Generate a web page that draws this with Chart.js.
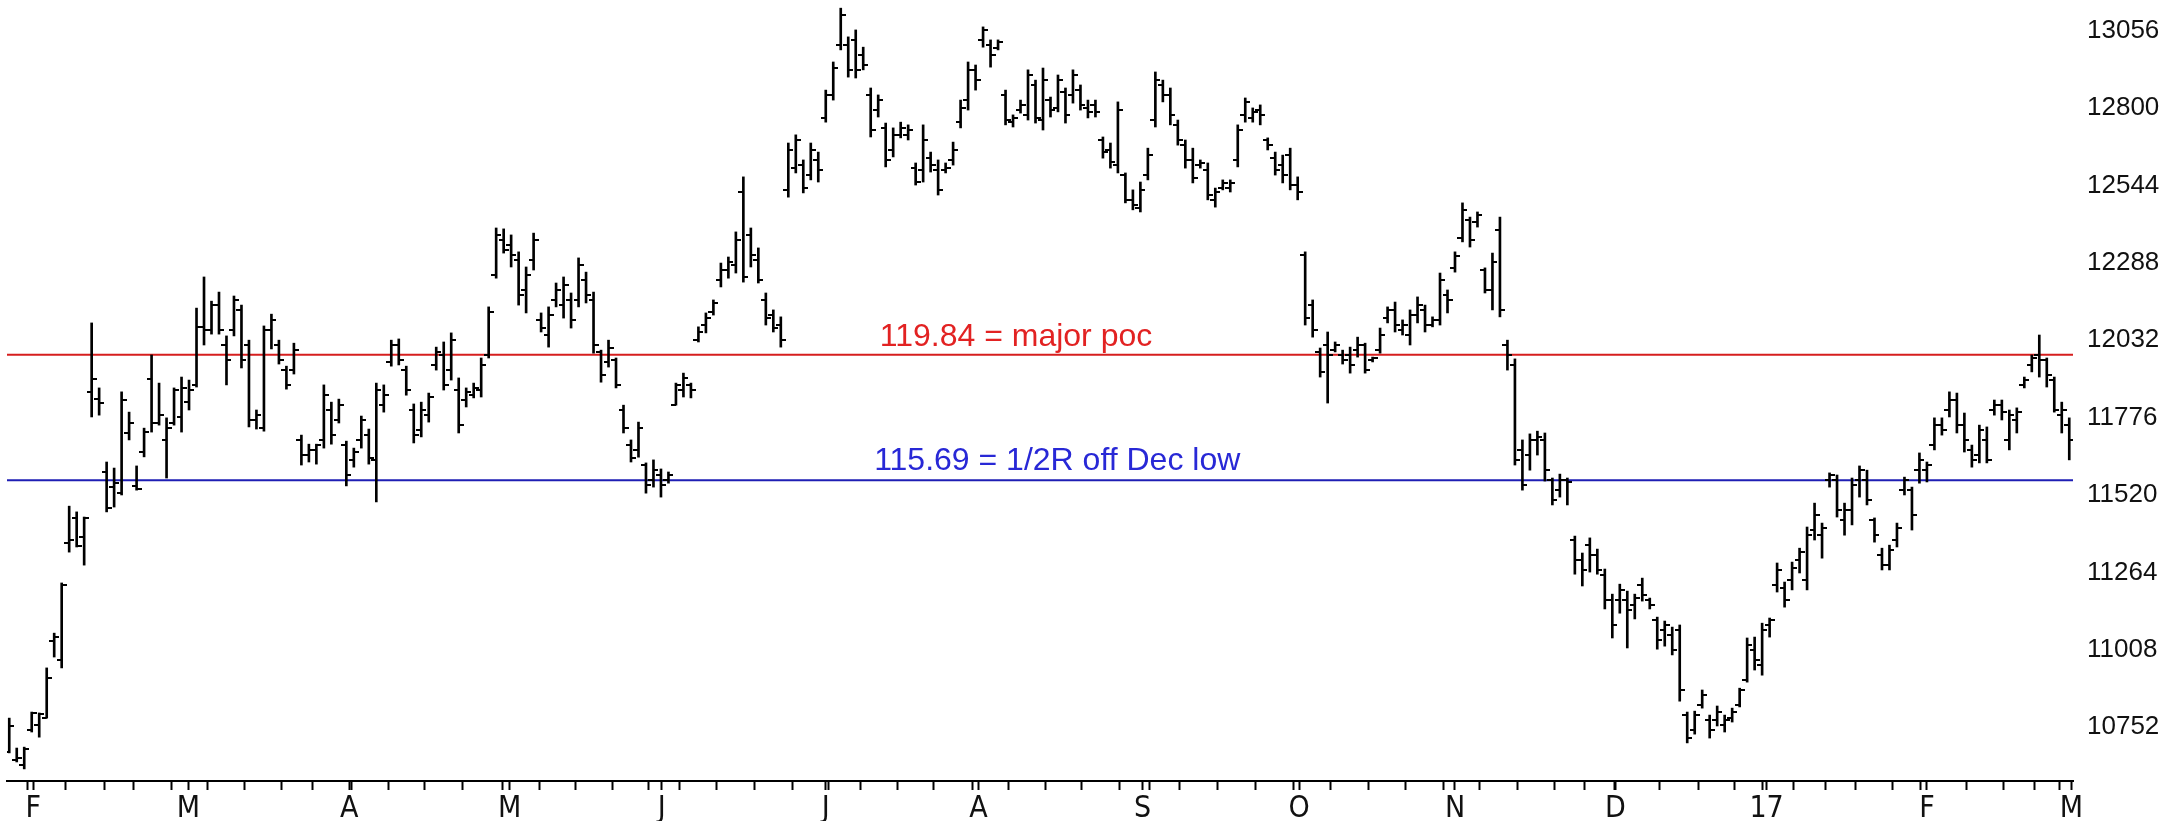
<!DOCTYPE html>
<html>
<head>
<meta charset="utf-8">
<script src="https://cdn.jsdelivr.net/npm/chart.js@4.4.1/dist/chart.umd.min.js"></script>
<style>
body{margin:0;background:#fff}
</style>
</head>
<body>
<canvas id="ohlc" width="2179" height="821"></canvas>
<script>
// daily bars, Feb 2016 .. Mar 2017
const opens=[10670,10643,10627,10743,10759,10782,11037,10974,11361,11444,
11381,11861,11837,11596,11546,11526,11725,11550,11662,11904,
11758,11702,11758,11778,11828,11884,12076,12066,12148,12016,
12066,12132,12016,11768,11741,12066,12016,11933,11933,11702,
11652,11669,11702,11801,11768,11685,11636,11702,11718,11636,
11817,11960,12016,11933,11801,11735,11784,11950,11983,11933,
11867,11834,11850,11867,11983,12247,12363,12347,12297,12198,
12297,12099,12049,12165,12148,12165,12165,12231,12165,11993,
11960,11966,11801,11685,11669,11619,11569,11586,11569,11817,
11867,11884,12032,12082,12125,12231,12264,12280,12522,12380,
12297,12165,12115,12082,12529,12601,12611,12578,12628,12767,
12843,13008,13008,13025,12975,12843,12793,12734,12661,12711,
12711,12601,12595,12634,12595,12595,12628,12753,12826,12926,
13025,13008,12998,12843,12753,12793,12777,12876,12760,12826,
12800,12853,12843,12859,12800,12810,12694,12661,12611,12578,
12496,12469,12578,12760,12876,12843,12744,12677,12628,12611,
12595,12496,12535,12535,12628,12777,12767,12793,12694,12634,
12611,12644,12545,12314,12148,11993,12016,11999,11983,11983,
11999,12016,11966,11999,12105,12132,12066,12049,12115,12132,
12082,12099,12181,12271,12370,12429,12423,12264,12198,12396,
12016,11950,11669,11652,11702,11702,11569,11536,11569,11371,
11305,11354,11321,11255,11172,11172,11172,11156,11222,11172,
11106,11073,11057,11073,10792,10743,10825,10776,10776,10759,
10782,10825,10908,11007,10958,11090,11222,11212,11239,11305,
11239,11404,11387,11569,11569,11437,11470,11569,11569,11437,
11321,11288,11371,11536,11536,11602,11602,11685,11751,11801,
11834,11751,11669,11652,11702,11801,11817,11702,11768,11884,
11950,11983,11966,11900,11784,11751]
const highs=[10782,10683,10686,10802,10799,10948,11063,11229,11483,11464,
11447,12089,11874,11629,11609,11861,11794,11616,11741,11983,
11890,11775,11874,11910,11900,12138,12241,12161,12191,12046,
12178,12148,12032,11801,12079,12118,12032,11946,12022,11718,
11688,11688,11884,11827,11837,11698,11675,11781,11738,11890,
11884,12032,12036,11946,11821,11827,11857,12009,12026,12056,
11907,11874,11890,11973,12142,12403,12400,12380,12324,12274,
12386,12122,12142,12221,12241,12188,12304,12257,12191,11999,
12032,11973,11817,11702,11761,11626,11636,11606,11596,11890,
11923,11890,12076,12122,12165,12287,12307,12390,12572,12403,
12337,12188,12132,12109,12684,12711,12628,12684,12654,12859,
12952,13130,13035,13058,13001,12866,12843,12750,12734,12753,
12744,12618,12744,12654,12628,12618,12687,12826,12952,12942,
13068,13025,13025,12859,12777,12826,12926,12892,12932,12836,
12909,12866,12926,12876,12826,12826,12704,12684,12820,12585,
12529,12555,12667,12919,12892,12866,12760,12694,12667,12628,
12618,12535,12562,12562,12744,12833,12800,12810,12701,12654,
12644,12667,12572,12324,12165,12006,12059,12026,11999,12009,
12042,12022,11976,12072,12142,12158,12099,12132,12175,12148,
12109,12254,12198,12324,12486,12439,12456,12271,12320,12439,
12032,11970,11702,11722,11731,11725,11576,11589,11576,11384,
11328,11378,11341,11275,11192,11225,11202,11192,11245,11179,
11116,11103,11083,11090,10802,10805,10875,10792,10822,10792,
10815,10881,11047,11050,11096,11113,11295,11232,11298,11344,
11414,11493,11427,11593,11586,11493,11576,11616,11602,11444,
11344,11354,11427,11579,11546,11659,11629,11775,11775,11861,
11857,11791,11685,11751,11745,11834,11834,11801,11808,11910,
11983,12049,11973,11910,11827,11775]
const lows=[10667,10637,10614,10736,10719,10782,10984,10948,11331,11348,
11288,11778,11784,11464,11480,11520,11702,11536,11646,11728,
11751,11576,11751,11728,11801,11877,12016,12052,12052,11884,
12046,11940,11745,11738,11731,12003,11953,11870,11920,11619,
11629,11622,11675,11688,11758,11550,11612,11675,11622,11497,
11794,11946,11950,11850,11692,11712,11761,11933,11867,11900,
11725,11811,11841,11844,11973,12237,12320,12274,12148,12122,
12264,12059,12009,12142,12105,12072,12142,12155,11989,11893,
11943,11874,11725,11629,11645,11526,11546,11513,11559,11817,
11844,11841,12026,12056,12115,12208,12237,12254,12224,12274,
12221,12082,12059,12009,12505,12585,12519,12562,12555,12753,
12826,12992,12902,12899,12926,12704,12770,12605,12638,12701,
12694,12545,12555,12588,12512,12585,12611,12734,12793,12859,
13001,12935,12992,12744,12737,12783,12760,12750,12727,12770,
12787,12750,12816,12793,12767,12770,12634,12601,12585,12486,
12463,12456,12562,12737,12820,12744,12677,12601,12552,12601,
12496,12472,12529,12522,12605,12753,12753,12744,12661,12578,
12552,12529,12496,12082,12042,11910,11824,11993,11953,11923,
11976,11923,11960,11989,12089,12059,12049,12016,12089,12059,
12076,12082,12122,12257,12357,12340,12406,12188,12132,12109,
11933,11619,11536,11602,11652,11566,11487,11513,11487,11258,
11219,11265,11258,11143,11047,11129,11014,11110,11169,11143,
11010,11020,10991,10838,10700,10729,10815,10716,10756,10736,
10769,10819,10901,10941,10924,11050,11199,11149,11206,11262,
11206,11371,11311,11546,11447,11387,11421,11513,11487,11364,
11272,11272,11348,11520,11404,11559,11563,11669,11718,11778,
11725,11662,11612,11626,11626,11784,11768,11669,11725,11874,
11927,11910,11877,11794,11725,11636]
const closes=[10756,10650,10680,10799,10796,10915,11050,11222,11371,11350,
11444,11904,11824,11477,11560,11834,11758,11540,11728,11758,
11784,11741,11867,11874,11867,12076,12066,12148,12066,11966,
12165,11966,11768,11784,12066,12099,11966,11884,11999,11652,
11669,11685,11850,11718,11817,11586,11662,11768,11642,11867,
11850,12016,11966,11867,11718,11801,11844,11993,11884,12032,
11751,11861,11874,11950,12125,12380,12330,12314,12181,12247,
12363,12072,12115,12198,12214,12099,12280,12181,12016,11917,
12006,11884,11741,11642,11741,11553,11602,11553,11586,11884,
11907,11867,12059,12105,12155,12264,12290,12363,12241,12314,
12231,12105,12072,12032,12661,12694,12535,12661,12595,12843,
12932,13107,12926,12926,12942,12727,12826,12628,12711,12734,
12727,12555,12694,12611,12529,12601,12661,12800,12926,12892,
13058,12975,13018,12760,12767,12810,12909,12767,12892,12793,
12892,12777,12909,12810,12787,12787,12654,12621,12793,12496,
12479,12529,12644,12892,12843,12777,12694,12628,12568,12618,
12512,12522,12552,12552,12727,12820,12787,12777,12677,12595,
12578,12545,12522,12105,12066,11927,11983,12016,11966,11950,
12016,11933,11973,12049,12132,12082,12082,12115,12148,12082,
12099,12231,12165,12310,12463,12363,12446,12198,12290,12132,
11983,11636,11553,11702,11712,11602,11503,11569,11563,11305,
11272,11321,11272,11172,11090,11206,11139,11179,11189,11156,
11040,11090,11007,10875,10716,10792,10858,10743,10802,10776,
10802,10875,11024,10974,11073,11106,11272,11172,11278,11331,
11387,11454,11411,11586,11470,11470,11553,11602,11503,11387,
11288,11338,11411,11569,11454,11636,11619,11751,11735,11834,
11751,11702,11636,11735,11636,11817,11794,11784,11794,11900,
11973,11966,11917,11801,11801,11702]

const yTicks=[10752,11008,11264,11520,11776,12032,12288,12544,12800,13056]
const monthLabels=['F','M','A','M','J','J','A','S','O','N','D','17','F','M']
const monthAt=[3.2,23.9,45.4,66.8,87.1,109,129.4,151.3,172.2,193,214.4,234.6,256,275.3]
const weekAt=[2.5,7.5,12.7,16.6,21.6,26.4,31.4,36.3,40.5,45.7,50.6,55.5,60.5,65.8,70.8,75.6,80.5,85.4,89.5,94.4,99.5,104.5,109.3,113.6,118.6,123.4,128.6,133.4,138.4,143.1,148.2,152.2,156.2,161.3,166.4,171.5,176.4,181.5,186.4,191.5,196.3,201.3,206.3,210.3,214.3,220.3,225.5,230.3,234,238.2,242.5,246.4,251.4,255.1,261.3,266.2,270.4,273.7]

const poc=11984      // 119.84 = major poc
const halfR=11569    // 115.69 = 1/2R off Dec low

const xMin=-0.3
const xMax=275.5

function tickImg(side){
let c=document.createElement('canvas')
c.width=10
c.height=2
let g=c.getContext('2d')
g.fillStyle='#000'
g.fillRect(side=='open'?0:5,0,5,2)
return c
}

const lineLabels={
id:'lineLabels',
afterDatasetsDraw(chart){
let ctx=chart.ctx
let x=chart.scales.x
let y=chart.scales.y
ctx.save()
ctx.font='32px "Liberation Sans", Arial, sans-serif'
ctx.textAlign='center'
ctx.textBaseline='alphabetic'
ctx.fillStyle='rgb(226,34,34)'
ctx.fillText('119.84 = major poc',x.getPixelForValue(134.4),y.getPixelForValue(poc)-9)
ctx.fillStyle='rgb(40,40,214)'
ctx.fillText('115.69 = 1/2R off Dec low',x.getPixelForValue(139.9),y.getPixelForValue(halfR)-10)
ctx.restore()
}
}

const idx=highs.map((h,i)=>i)

new Chart(document.getElementById('ohlc'),{
type:'scatter',
data:{
datasets:[
{
type:'line',
data:[{x:xMin,y:poc},{x:xMax,y:poc}],
borderColor:'rgb(214,30,30)',
borderWidth:2,
pointRadius:0,
order:3
},
{
type:'line',
data:[{x:xMin,y:halfR},{x:xMax,y:halfR}],
borderColor:'rgb(30,30,180)',
borderWidth:2,
pointRadius:0,
order:3
},
{
type:'bar',
data:idx.map(i=>({x:i,y:[lows[i],highs[i]]})),
backgroundColor:'#000',
borderWidth:0,
barThickness:2,
grouped:false,
order:2
},
{
data:idx.map(i=>({x:i,y:opens[i]})),
pointStyle:tickImg('open'),
pointRadius:3,
order:1
},
{
data:idx.map(i=>({x:i,y:closes[i]})),
pointStyle:tickImg('close'),
pointRadius:3,
order:1
}
]
},
options:{
responsive:false,
animation:false,
events:[],
devicePixelRatio:1,
layout:{autoPadding:false,padding:{left:7,top:0,right:0,bottom:0}},
plugins:{legend:{display:false},tooltip:{enabled:false}},
scales:{
x:{
type:'linear',
min:xMin,
max:xMax,
offset:false,
afterBuildTicks:s=>{
s.ticks=[...weekAt,...monthAt].sort((a,b)=>a-b).map(v=>({value:v}))
},
afterFit:s=>{
s.height=40
s.paddingLeft=0
s.paddingRight=0
},
ticks:{
autoSkip:false,
maxRotation:0,
padding:1,
color:'#111',
font:{family:'"Liberation Sans Narrow", "DejaVu Sans Condensed", sans-serif',size:30},
callback:v=>{
let k=monthAt.indexOf(v)
return k<0?'':monthLabels[k]
}
},
grid:{display:true,drawOnChartArea:false,drawTicks:true,tickLength:9,tickWidth:2,tickColor:'#000',offset:false},
border:{display:true,color:'#000',width:2}
},
y:{
type:'linear',
position:'right',
min:10574,
max:13157,
afterBuildTicks:s=>{
s.ticks=yTicks.map(v=>({value:v}))
},
afterFit:s=>{
s.width=106
s.paddingTop=0
s.paddingBottom=0
},
ticks:{
padding:14,
color:'#111',
font:{family:'"Liberation Sans", Arial, sans-serif',size:26},
callback:v=>String(v)
},
grid:{display:false,drawTicks:false},
border:{display:false}
}
}
},
plugins:[lineLabels]
})
</script>
</body>
</html>
